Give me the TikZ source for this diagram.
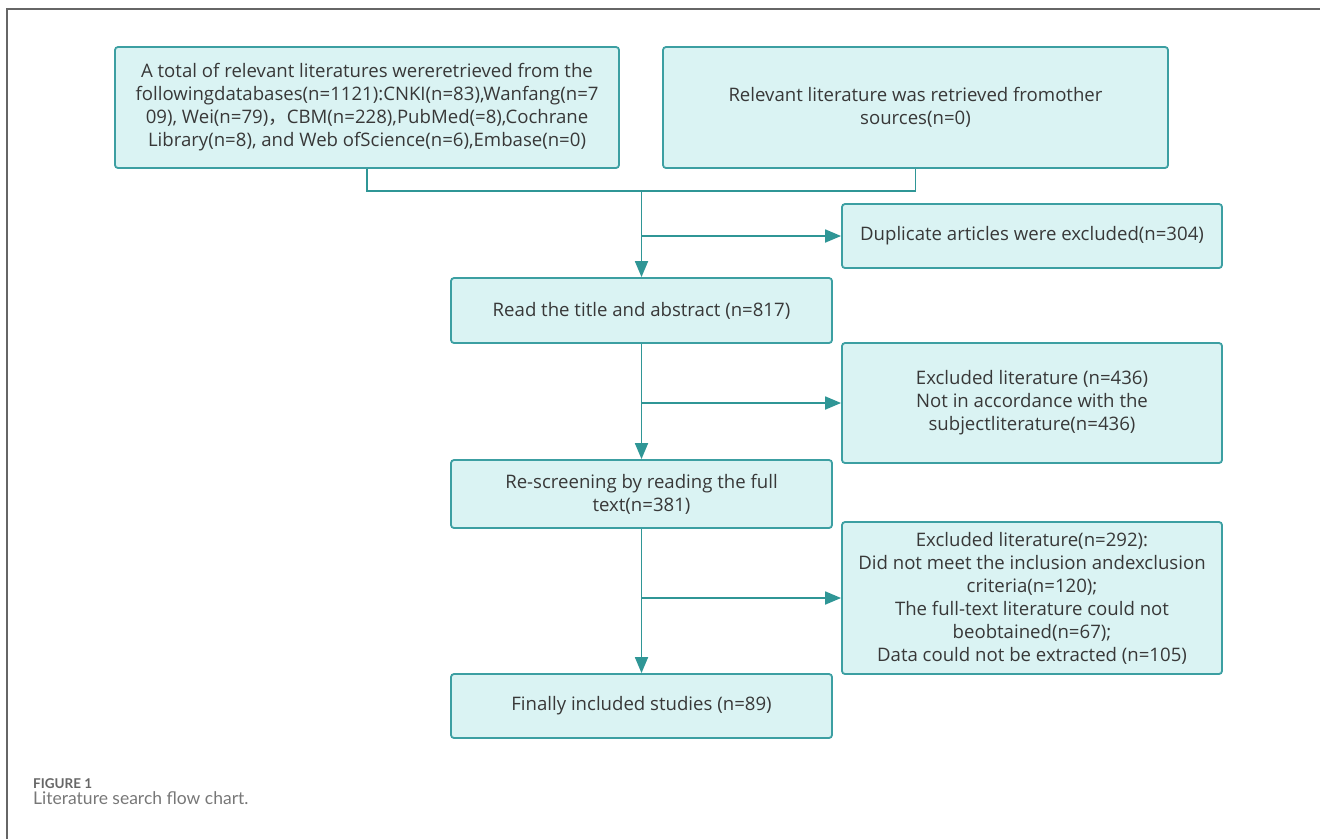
\documentclass[tikz,border=0pt]{standalone}
\usepackage{fontspec}
\setmainfont{Open Sans}
\newfontfamily\capfont{Lato}
\newfontfamily\cjk{Noto Sans CJK SC}
\usetikzlibrary{arrows.meta}
\definecolor{boxfill}{HTML}{DAF3F3}
\definecolor{boxdraw}{HTML}{3C9FA2}
\definecolor{connc}{HTML}{2F9696}
\definecolor{txt}{HTML}{383838}
\definecolor{framec}{HTML}{666666}
\definecolor{capc}{HTML}{777777}
\begin{document}
\begin{tikzpicture}[x=1pt,y=-1pt,
  fbox/.style={draw=boxdraw, line width=1.8pt, fill=boxfill, rounded corners=3pt,
    text=txt, align=center, font=\fontsize{18.6}{23}\selectfont, inner sep=0pt},
  conn/.style={draw=connc, line width=1.8pt},
  arr/.style={conn, -{Triangle[length=16pt,width=13pt]}}]
\useasboundingbox (0,0) rectangle (1320,839);
\draw[framec, line width=1.5pt] (7,839) -- (7,9) -- (1320,9);

\node[fbox, minimum width=504pt, minimum height=121pt] (A) at (367,107.5)
  {A total of relevant literatures wereretrieved from the\\
   followingdatabases(n=1121):CNKI(n=83),Wanfang(n=7\\
   09), Wei(n=79){\cjk ，}CBM(n=228),PubMed(=8),Cochrane\\
   Library(n=8), and Web ofScience(n=6),Embase(n=0)};
\node[fbox, minimum width=505pt, minimum height=121pt] (B) at (915.5,107.5)
  {Relevant literature was retrieved fromother\\ sources(n=0)};
\node[fbox, minimum width=380pt, minimum height=64pt] (dup) at (1032,236)
  {Duplicate articles were excluded(n=304)};
\node[fbox, minimum width=381pt, minimum height=65pt] (read) at (641.5,310.5)
  {Read the title and abstract (n=817)};
\node[fbox, minimum width=380pt, minimum height=120pt] (ex1) at (1032,403)
  {Excluded literature (n=436)\\ Not in accordance with the\\ subjectliterature(n=436)};
\node[fbox, minimum width=381pt, minimum height=68pt] (rescr) at (641.5,494)
  {Re-screening by reading the full\\ text(n=381)};
\node[fbox, minimum width=380pt, minimum height=152pt] (ex2) at (1032,598)
  {Excluded literature(n=292):\\ Did not meet the inclusion andexclusion\\ criteria(n=120);\\
   The full-text literature could not\\ beobtained(n=67);\\ Data could not be extracted (n=105)};
\node[fbox, minimum width=381pt, minimum height=64pt] (final) at (641.5,706)
  {Finally included studies (n=89)};

\coordinate (j) at (641.5,191);
\draw[conn] (A.south) |- (j) -| (B.south);
\draw[arr] (j) -- (read.north);
\draw[arr] (j |- dup.west) -- (dup.west);
\draw[arr] (read.south) -- (rescr.north);
\draw[arr] (read.south |- ex1.west) -- (ex1.west);
\draw[arr] (rescr.south) -- (final.north);
\draw[arr] (rescr.south |- ex2.west) -- (ex2.west);

\node[anchor=base west, inner sep=0pt, text=framec, font=\capfont\bfseries\fontsize{13.5}{16}\selectfont] (fig) at (33,788) {FIGURE 1};
\node[anchor=base west, inner sep=0pt, text=capc, font=\capfont\fontsize{17.5}{20}\selectfont] (cap) at (33,804) {Literature search flow chart.};
\end{tikzpicture}
\end{document}
